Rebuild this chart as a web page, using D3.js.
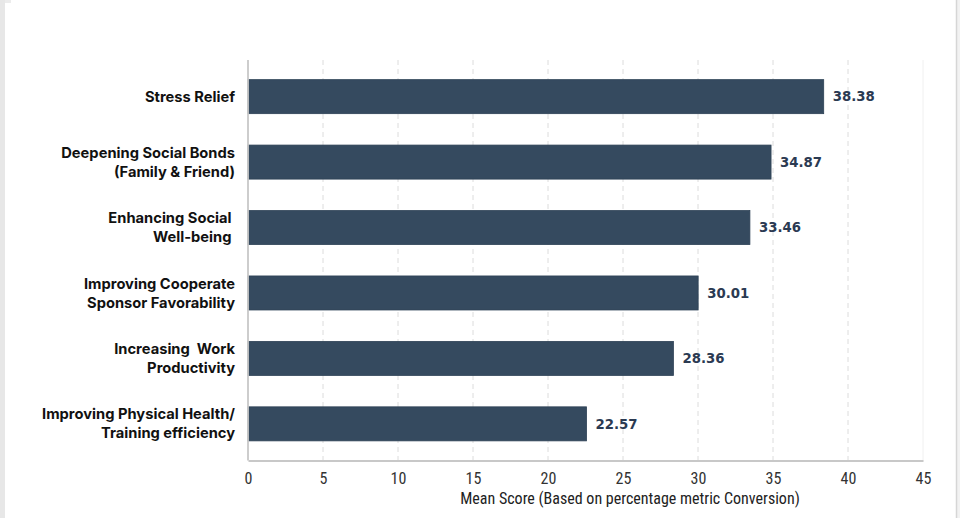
<!DOCTYPE html>
<html>
<head>
<meta charset="utf-8">
<script src="https://cdn.jsdelivr.net/npm/d3@7"></script>
<style>
  html, body { margin: 0; padding: 0; background: #fff; }
  svg { display: block; }
  .cat { font-family: Inter, Lato, sans-serif; font-weight: 700; font-size: 14.7px; fill: #111; }
  .val { font-family: "DejaVu Sans", sans-serif; font-weight: 700; font-size: 13.3px; fill: #2b3a52; }
  .tick text { font-family: "Liberation Sans Narrow", "Roboto", sans-serif; font-stretch: condensed; font-size: 16px; fill: #333; }
  .xtitle { font-family: "Liberation Sans Narrow", "Roboto", sans-serif; font-stretch: condensed; font-size: 16px; fill: #222; }
</style>
</head>
<body>
<svg id="chart" width="960" height="518"></svg>
<script>
// categories, top to bottom
var categories = [
  ["Stress Relief"],
  ["Deepening Social Bonds", "(Family & Friend)"],
  ["Enhancing Social ", "Well-being "],
  ["Improving Cooperate", "Sponsor Favorability"],
  ["Increasing  Work", "Productivity"],
  ["Improving Physical Health/", "Training efficiency"]
];
var values = [38.38, 34.87, 33.46, 30.01, 28.36, 22.57];
var tickValues = [0, 5, 10, 15, 20, 25, 30, 35, 40, 45];
var xTitle = "Mean Score (Based on percentage metric Conversion)";

var svg = d3.select("#chart");

// page frame bits
svg.append("rect").attr("x", 0).attr("y", 0).attr("width", 5).attr("height", 518).attr("fill", "#e7e7e7");
svg.append("rect").attr("x", 5).attr("y", 0).attr("width", 6).attr("height", 3).attr("fill", "#ececec");
svg.append("rect").attr("x", 956).attr("y", 0).attr("width", 4).attr("height", 518).attr("fill", "#f2f2f2");
svg.append("line").attr("x1", 956.5).attr("x2", 956.5).attr("y1", 0).attr("y2", 518)
  .attr("stroke", "#d6d6d6").attr("stroke-width", 1.5);

var plotLeft = 248, plotRight = 923, plotTop = 60, plotBottom = 460.5;

var x = d3.scaleLinear().domain([0, 45]).range([plotLeft, plotRight]);
var y = d3.scaleBand()
  .domain(d3.range(categories.length))
  .range([plotTop, plotBottom])
  .paddingInner(0.48)
  .paddingOuter(0.3);

// grid
svg.append("g").selectAll("line")
  .data(tickValues.filter(function(d) { return d > 0; }))
  .enter().append("line")
    .attr("x1", function(d) { return x(d); })
    .attr("x2", function(d) { return x(d); })
    .attr("y1", plotTop)
    .attr("y2", plotBottom)
    .attr("stroke", function(d) { return d == 45 ? "#f0f0f0" : "#dcdcdc"; })
    .attr("stroke-width", 1)
    .attr("stroke-dasharray", function(d) { return d == 45 ? null : "5,4"; });

// bars
svg.append("g").selectAll("rect")
  .data(values)
  .enter().append("rect")
    .attr("x", x(0))
    .attr("y", function(d, i) { return y(i); })
    .attr("width", function(d) { return x(d) - x(0); })
    .attr("height", y.bandwidth())
    .attr("fill", "#354a5f")
    .attr("stroke", "#2e4256")
    .attr("stroke-width", 0.8);

// value labels
svg.append("g").selectAll("text")
  .data(values)
  .enter().append("text")
    .attr("class", "val")
    .attr("x", function(d) { return x(d) + 9; })
    .attr("y", function(d, i) { return y(i) + y.bandwidth() / 2; })
    .attr("dy", "0.36em")
    .text(function(d) { return d.toFixed(2); });

// category labels
var cat = svg.append("g").selectAll("text")
  .data(categories)
  .enter().append("text")
    .attr("class", "cat")
    .attr("text-anchor", "end")
    .attr("xml:space", "preserve")
    .attr("y", function(d, i) { return y(i) + y.bandwidth() / 2; });

cat.each(function(lines) {
  var t = d3.select(this);
  var lh = 19;
  var start = -(lines.length - 1) * lh / 2;
  lines.forEach(function(line, j) {
    t.append("tspan")
      .attr("x", 235)
      .attr("dy", j == 0 ? (start / 14.7 + 0.35) + "em" : lh + "px")
      .text(line);
  });
});

// y axis line
svg.append("line")
  .attr("x1", plotLeft).attr("x2", plotLeft)
  .attr("y1", plotTop).attr("y2", plotBottom)
  .attr("stroke", "#c8c8c8").attr("stroke-width", 1.8);

// x axis
var xAxis = svg.append("g")
  .attr("transform", "translate(0," + plotBottom + ")")
  .call(d3.axisBottom(x).tickValues(tickValues).tickSize(0).tickPadding(12).tickFormat(d3.format("d")));
xAxis.select(".domain").attr("stroke", "#c8c8c8").attr("stroke-width", 1.8);

svg.append("text")
  .attr("class", "xtitle")
  .attr("x", 630)
  .attr("y", 504)
  .attr("text-anchor", "middle")
  .text(xTitle);
</script>
</body>
</html>
